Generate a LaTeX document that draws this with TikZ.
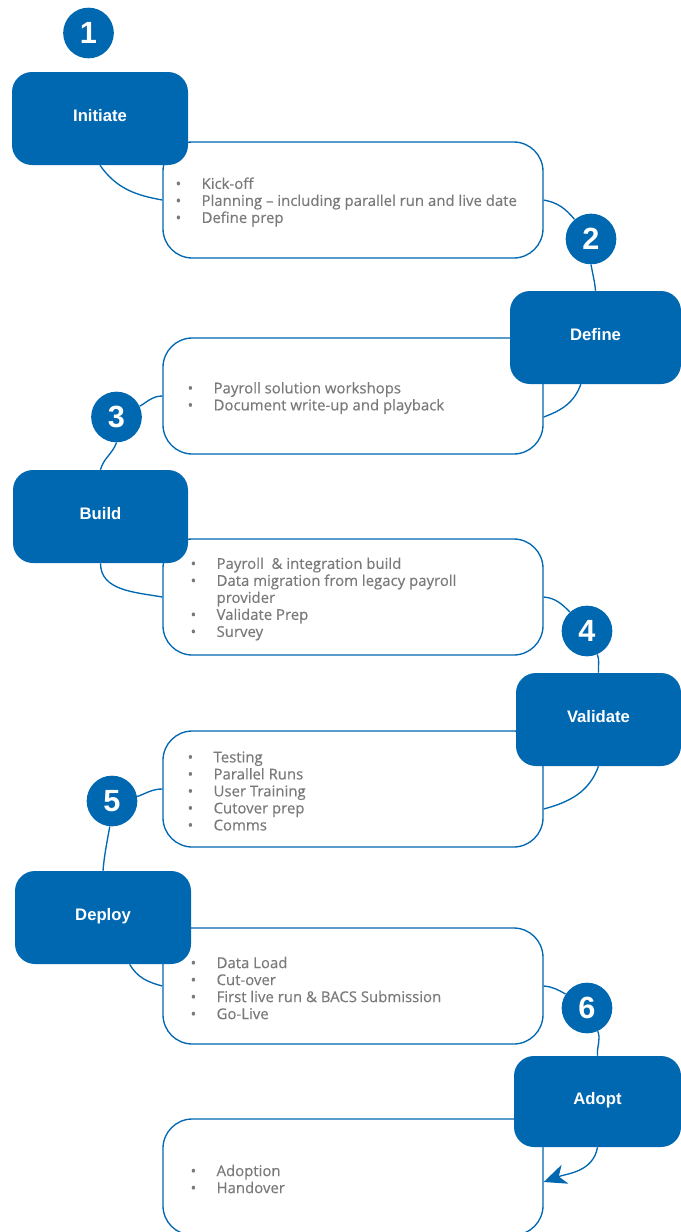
\documentclass[tikz,border=0pt]{standalone}
\usepackage{fontspec}
\setmainfont{Open Sans}
\newfontfamily\notefont{Open Sans}[BoldFont={Open Sans},BoldFeatures={FakeBold=0.4}]
\newfontfamily\headfont{Liberation Sans}
\usetikzlibrary{arrows.meta}
\definecolor{stageblue}{RGB}{0,103,177}
\definecolor{notegray}{RGB}{122,122,122}
\newcommand{\bul}{\makebox[19.5pt][l]{\textbullet}}
\newcommand{\cont}{\hspace*{19.5pt}}
\begin{document}
\begin{tikzpicture}[x=0.75pt,y=-0.75pt,
    phase/.style={fill=stageblue,rounded corners=15pt,minimum height=69.75pt,
        text height=9pt,text depth=4.5pt,
        text=white,font=\headfont\bfseries\fontsize{12.5}{14}\selectfont},
    notebox/.style={draw=stageblue,line width=1pt,fill=white,rounded corners=22pt,
        minimum width=285pt,minimum height=87pt},
    notetext/.style={anchor=west,inner sep=0pt,align=left,text=notegray,
        font=\notefont\bfseries\fontsize{11.2}{12.75}\selectfont},
    stepnum/.style={circle,fill=stageblue,minimum size=38pt,inner sep=0pt,
        text=white,font=\headfont\bfseries\fontsize{23}{24}\selectfont},
    link/.style={draw=stageblue,line width=1pt}]
    \clip (0,0) rectangle (681,1232);
    %% detail boxes
    \node[notebox] (c1) at (353,200) {};
    \node[notebox] (c2) at (353,396) {};
    \node[notebox] (c3) at (353,597) {};
    \node[notebox] (c4) at (353,789) {};
    \node[notebox] (c5) at (353,986) {};
    \node[notebox] (c6) at (353,1177) {};
    \node[notetext] (t1) at ([xshift=9.75pt,yshift=-1.5pt]c1.west) {\bul Kick-off\\
        \bul Planning – including parallel run and live date\\ \bul Define prep};
    \node[notetext] (t2) at ([xshift=18.75pt,yshift=-1.5pt]c2.west) {\bul Payroll solution workshops\\
        \bul Document write-up and playback};
    \node[notetext] (t3) at ([xshift=21pt,yshift=-1.5pt]c3.west) {\bul Payroll \ \& integration build\\
        \bul Data migration from legacy payroll\\ \cont provider\\
        \bul Validate Prep\\ \bul Survey};
    \node[notetext] (t4) at ([xshift=18.75pt,yshift=-1.5pt]c4.west) {\bul Testing\\ \bul Parallel Runs\\
        \bul User Training\\ \bul Cutover prep\\ \bul Comms};
    \node[notetext] (t5) at ([xshift=21pt,yshift=-1.5pt]c5.west) {\bul Data Load\\ \bul Cut-over\\
        \bul First live run \& BACS Submission\\ \bul Go-Live};
    \node[notetext] (t6) at ([xshift=21pt,yshift=-1.5pt]c6.west) {\bul Adoption\\ \bul Handover};
    %% phase boxes
    \node[phase,minimum width=132pt] (init) at (100,118.5) {Initiate};
    \node[phase,minimum width=128.25pt] (define) at (595.5,337.5) {Define};
    \node[phase,minimum width=131.25pt] (build) at (100.5,516.5) {Build};
    \node[phase,minimum width=123.75pt] (valid) at (598.5,719.5) {Validate};
    \node[phase,minimum width=132pt] (deploy) at (103,917.5) {Deploy};
    \node[phase,minimum width=125.25pt,minimum height=68.25pt] (adopt) at (597.5,1101.5) {Adopt};
    %% numbers
    \foreach \n/\x/\y in {1/88.5/33,2/591/239,3/116.5/417,4/587/631,5/112/801,6/587/1008} {
        \node[stepnum] (n\n) at (\x,\y) {\n};
    }
    %% connectors
    \draw[link] (init.south) to[out=-55,in=170] (c1.west);
    \draw[link] (c1.east) to[out=-10,in=130] (n2.130);
    \draw[link] (n2.south) to[out=-80,in=95] (define.north);
    \draw[link] ([xshift=-11pt]define.south) to[out=-110,in=20] ([yshift=-15.75pt]c2.east);
    \draw[link] (c2.west) to[out=180,in=30] (n3.25);
    \draw[link] (n3.south) to[out=-110,in=75] (build.north);
    \draw[link] (build.south) to[out=-90,in=170] (c3.west);
    \draw[link] (c3.east) to[out=-5,in=135] (n4.132);
    \draw[link] (n4.-66) to[out=-70,in=95] (valid.north);
    \draw[link] (valid.south) to[out=-110,in=15] ([yshift=-15pt]c4.east);
    \draw[link] (c4.west) to[out=180,in=20] (n5.10);
    \draw[link] (n5.-95) to[out=-100,in=85] (deploy.north);
    \draw[link] ([xshift=20pt]deploy.south) to[out=-60,in=165] (c5.west);
    \draw[link] (c5.east) to[out=-5,in=150] (n6.147);
    \draw[link] (n6.-65) to[out=-70,in=95] (adopt.north);
    \draw[link,arrows={-Stealth[length=17pt,width=15pt,inset=5pt]}] (adopt.south)
        to[out=-100,in=20] ([yshift=-3.75pt]c6.east);
\end{tikzpicture}
\end{document}
